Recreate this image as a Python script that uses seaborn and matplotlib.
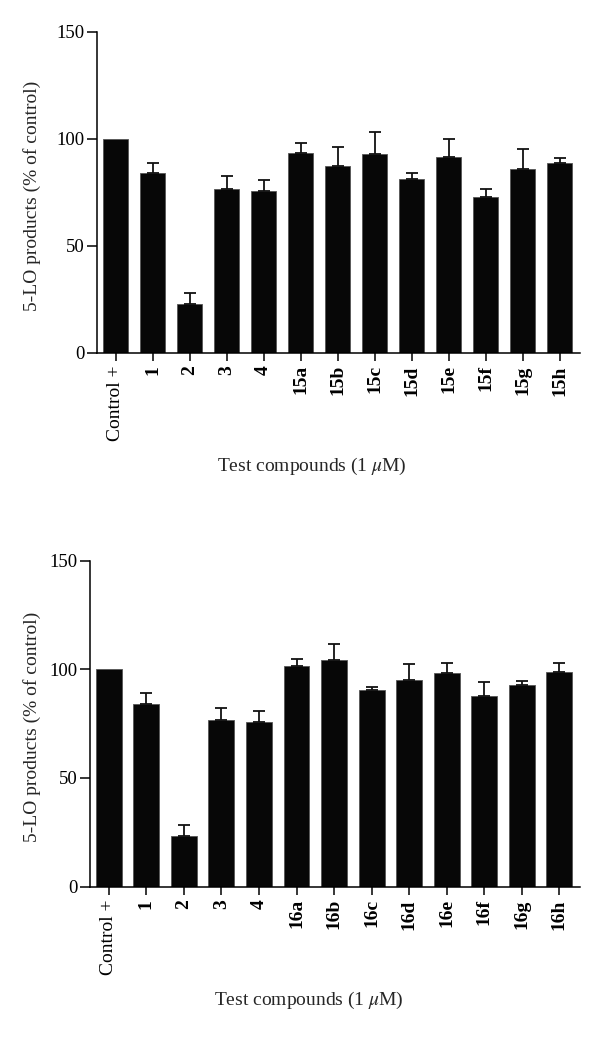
import matplotlib
matplotlib.use("Agg")
import matplotlib.pyplot as plt
import seaborn as sns
import numpy as np
import pandas as pd

# ---- data ----
cats_top = ["Control +", "1", "2", "3", "4", "15a", "15b", "15c", "15d", "15e", "15f", "15g", "15h"]
vals_top = [100.0, 84.1, 22.9, 76.6, 75.6, 93.5, 87.1, 92.7, 81.2, 91.6, 72.9, 85.8, 88.5]
err_top = [0.0, 4.7, 5.1, 6.0, 4.9, 4.3, 9.2, 10.4, 2.8, 8.1, 3.6, 9.5, 2.3]

cats_bot = ["Control +", "1", "2", "3", "4", "16a", "16b", "16c", "16d", "16e", "16f", "16g", "16h"]
vals_bot = [100.0, 84.2, 23.3, 76.7, 75.6, 101.7, 104.2, 90.5, 95.1, 98.3, 87.9, 93.0, 98.9]
err_bot = [0.0, 4.8, 5.1, 5.7, 5.1, 2.9, 7.6, 1.4, 7.4, 4.6, 6.2, 1.8, 4.2]

ylabel = "5-LO products (% of control)"
xlabel = r"Test compounds (1 $\mu$M)"
yticks = [0, 50, 100, 150]

sns.set_theme(style="ticks")
plt.rcParams["font.family"] = ["Liberation Serif", "DejaVu Serif"]
plt.rcParams["mathtext.fontset"] = "stix"

fig = plt.figure(figsize=(6.0, 10.63), dpi=100)
ax_top = fig.add_axes([0.1617, 0.6682, 0.805, 0.302])
ax_bot = fig.add_axes([0.150, 0.1659, 0.8167, 0.3067])


def draw(ax, cats, vals, errs, ylab_x, xlab_xy):
    df = pd.DataFrame({"compound": cats, "value": vals, "err": errs})
    sns.barplot(data=df, x="compound", y="value", color="#070707",
                width=0.69, edgecolor="#555555", linewidth=0.6, ax=ax,
                errorbar=None, order=cats)
    pos = np.arange(len(cats))
    e = np.array(errs)
    mask = e > 0
    ax.errorbar(pos[mask], np.array(vals)[mask],
                yerr=[np.zeros(mask.sum()), e[mask]],
                fmt="none", ecolor="#111111", elinewidth=1.3, capsize=4.5,
                capthick=1.3, zorder=1)
    ax.set_xlim(-0.5, len(cats) - 0.45)
    ax.set_ylim(0, 150)
    ax.set_yticks(yticks)
    ax.set_yticklabels([str(t) for t in yticks], fontsize=13.5)
    ax.set_xticks(pos)
    ax.set_xticklabels(cats, rotation=90, fontsize=14)
    for lab in ax.get_xticklabels():
        if lab.get_text() != "Control +":
            lab.set_fontweight("bold")
    ax.set_ylabel(ylabel, fontsize=14)
    ax.set_xlabel(xlabel, fontsize=14)
    ax.yaxis.label.set_va("center")
    ax.xaxis.label.set_va("center")
    ax.yaxis.set_label_coords(ylab_x, 0.49)
    ax.xaxis.set_label_coords(*xlab_xy)
    sns.despine(ax=ax)
    for s in ["left", "bottom"]:
        ax.spines[s].set_linewidth(1.1)
        ax.spines[s].set_color("black")
    ax.tick_params(axis="y", direction="out", length=7, width=1.1, pad=2, colors="black")
    ax.tick_params(axis="x", direction="out", length=6, width=1.1, pad=3, colors="black")
    ax.set_facecolor("white")


draw(ax_top, cats_top, vals_top, err_top, -0.135, (0.444, -0.355))
draw(ax_bot, cats_bot, vals_bot, err_bot, -0.118, (0.447, -0.3475))

fig.savefig("out.png", dpi=100, facecolor="white")
